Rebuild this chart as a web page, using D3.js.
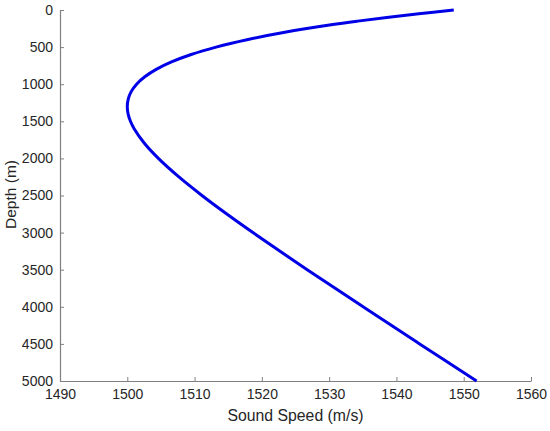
<!DOCTYPE html>
<html>
<head>
<meta charset="utf-8">
<script src="https://cdn.jsdelivr.net/npm/d3@7"></script>
<style>
  body { margin: 0; background: #fff; }
  text { font-family: "Liberation Sans", Arial, sans-serif; fill: #262626; }
</style>
</head>
<body>
<svg id="chart" width="550" height="431"></svg>
<script>
// profil de célérité (profondeur en m, vitesse en m/s)
var depth = [0, 50, 100, 150, 200, 300, 400, 500, 600, 700, 800, 900, 1000, 1100, 1200, 1300,
             1400, 1500, 1600, 1800, 2000, 2250, 2500, 2750, 3000, 3500, 4000, 4500, 5000];
var speed = [1548.52, 1543.32, 1538.57, 1534.24, 1530.29, 1523.42, 1517.78, 1513.19, 1509.49,
             1506.57, 1504.30, 1502.60, 1501.38, 1500.58, 1500.14, 1500.00, 1500.12, 1500.47,
             1501.02, 1502.57, 1504.62, 1507.67, 1511.10, 1514.79, 1518.67, 1526.74, 1535.04,
             1543.45, 1551.91];
var xTicks = [1490, 1500, 1510, 1520, 1530, 1540, 1550, 1560];
var yTicks = [0, 500, 1000, 1500, 2000, 2500, 3000, 3500, 4000, 4500, 5000];

// marges du cadre (pas "top" : window.top est réservé)
var mLeft = 60, mRight = 531, mTop = 10, mBottom = 381;
var svg = d3.select("#chart");

var x = d3.scaleLinear().domain([1490, 1560]).range([mLeft, mRight]);
var y = d3.scaleLinear().domain([0, 5000]).range([mTop, mBottom]);

// axes avec graduations vers l'intérieur
var gx = svg.append("g")
    .attr("transform", "translate(0," + mBottom + ")")
    .call(d3.axisBottom(x).tickValues(xTicks).tickFormat(d3.format("d"))
        .tickSizeInner(-4).tickSizeOuter(0).tickPadding(8));

var gy = svg.append("g")
    .attr("transform", "translate(" + mLeft + ",0)")
    .call(d3.axisLeft(y).tickValues(yTicks).tickFormat(d3.format("d"))
        .tickSizeInner(-4).tickSizeOuter(0).tickPadding(7));

[gx, gy].forEach(function (g) {
    g.select(".domain").attr("stroke", "#808080").attr("stroke-width", 1.2);
    g.selectAll(".tick line").attr("stroke", "#808080");
    g.selectAll(".tick text")
        .style("font-size", "14px")
        .style("font-family", "'Liberation Sans', Arial, sans-serif")
        .attr("fill", "#262626");
});

svg.append("text")
    .attr("x", (mLeft + mRight) / 2)
    .attr("y", 421)
    .attr("text-anchor", "middle")
    .style("font-size", "15.8px")
    .text("Sound Speed (m/s)");

svg.append("text")
    .attr("transform", "translate(15.5," + ((mTop + mBottom) / 2 - 1) + ") rotate(-90)")
    .attr("text-anchor", "middle")
    .style("font-size", "15.5px")
    .text("Depth (m)");

var line = d3.line()
    .x(function (d, i) { return x(speed[i]); })
    .y(function (d) { return y(d); })
    .curve(d3.curveCatmullRom.alpha(0.5));

svg.append("path")
    .datum(depth)
    .attr("d", line)
    .attr("fill", "none")
    .attr("stroke", "#0000e6")
    .attr("stroke-width", 3);
</script>
</body>
</html>
